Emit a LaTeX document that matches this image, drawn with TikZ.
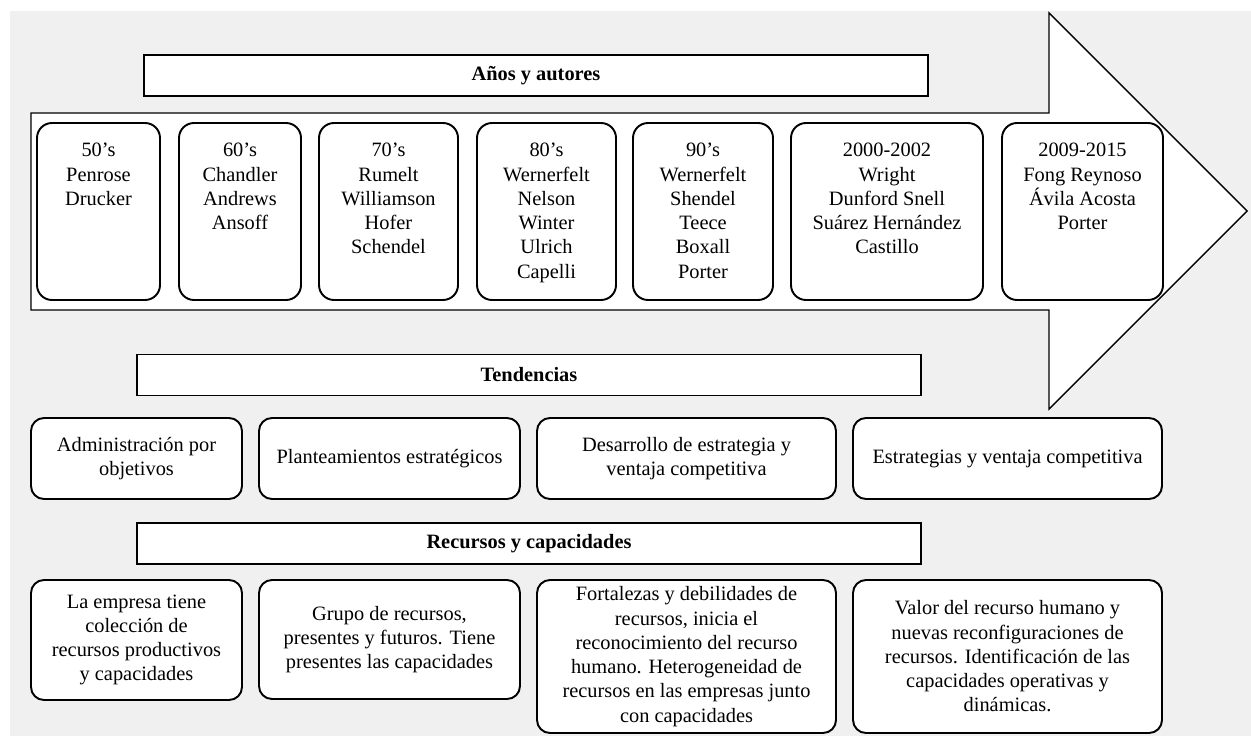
\documentclass[tikz,border=0pt]{standalone}
\usepackage{fontspec}
\setmainfont{Liberation Serif}
\usepackage{tikz}
\usetikzlibrary{positioning}
\definecolor{panel}{HTML}{F0F0F0}

\begin{document}
\begin{tikzpicture}[
  x=0.2mm, y=-0.2mm,
  node distance=3.4mm,
  txt/.style={font=\fontsize{11.6}{13.8}\selectfont, align=center},
  bar/.style={draw, line width=1pt, fill=white, minimum width=156.8mm, minimum height=8.2mm, inner sep=0pt, outer sep=0pt, font=\fontsize{11.6}{13.8}\selectfont\bfseries},
  era/.style={draw, line width=1.1pt, fill=white, rounded corners=3mm, minimum width=#1, minimum height=35.4mm, inner sep=0pt, outer sep=0pt},
  eratext/.style={txt, inner sep=0pt, anchor=north},
  card/.style={draw, line width=1.1pt, fill=white, rounded corners=2.6mm, txt, minimum width=#1, inner sep=1pt, outer sep=0pt}]
  \fill[panel] (10,11) rectangle (1251,736);
  \useasboundingbox (0,0) rectangle (1251,740);
  % big timeline arrow
  \draw[line width=0.8pt, fill=white] (31,113) -- (1049,113) -- (1049,13) -- (1247,211) -- (1049,409) -- (1049,310) -- (31,310) -- cycle;
  \node[bar] (anos) at (536,75.5) {Años y autores};
  % decades
  \node[era=24.6mm] (e50) at (98.5,211.5) {};
  \node[era=24.4mm, right=3.8mm of e50] (e60) {};
  \node[era=27.8mm, right=3.6mm of e60] (e70) {};
  \node[era=27.8mm, right=3.8mm of e70] (e80) {};
  \node[era=28mm, right=3.4mm of e80] (e90) {};
  \node[era=38.4mm, right=3.6mm of e90] (e00) {};
  \node[era=32.2mm, right=3.8mm of e00] (e09) {};
  \node[eratext, below=4mm of e50.north] (t50) {50’s\\Penrose\\Drucker};
  \node[eratext, below=4mm of e60.north] (t60) {60’s\\Chandler\\Andrews\\Ansoff};
  \node[eratext, below=4mm of e70.north] (t70) {70’s\\Rumelt\\Williamson\\Hofer\\Schendel};
  \node[eratext, below=4mm of e80.north] (t80) {80’s\\Wernerfelt\\Nelson\\Winter\\Ulrich\\Capelli};
  \node[eratext, below=4mm of e90.north] (t90) {90’s\\Wernerfelt\\Shendel\\Teece\\Boxall\\Porter};
  \node[eratext, below=4mm of e00.north] (t00) {2000-2002\\Wright\\Dunford Snell\\Suárez Hernández\\Castillo};
  \node[eratext, below=4mm of e09.north] (t09) {2009-2015\\Fong Reynoso\\Ávila Acosta\\Porter};
  % trends
  \node[bar] (tend) at (529,375) {Tendencias};
  \node[card=42.2mm, minimum height=16.2mm] (tr1) at (136.5,458.5) {Administración por\\objetivos};
  \node[card=52.2mm, minimum height=16.2mm, right=of tr1] (tr2) {Planteamientos estratégicos};
  \node[card=59.8mm, minimum height=16.2mm, right=of tr2] (tr3) {Desarrollo de estrategia y\\ventaja competitiva};
  \node[card=61.8mm, minimum height=16.2mm, right=of tr3] (tr4) {Estrategias y ventaja competitiva};
  % resources and capabilities
  \node[bar] (rec) at (529,543.5) {Recursos y capacidades};
  \node[card=42.2mm, minimum height=24mm, anchor=north west] (rc1) at (31,580) {La empresa tiene\\colección de\\recursos productivos\\y capacidades};
  \node[card=52.2mm, minimum height=23.8mm, right=of rc1.north east, anchor=north west] (rc2) {Grupo de recursos,\\presentes y futuros. Tiene\\presentes las capacidades};
  \node[card=59.8mm, minimum height=30.6mm, right=of rc2.north east, anchor=north west] (rc3) {Fortalezas y debilidades de\\recursos, inicia el\\reconocimiento del recurso\\humano. Heterogeneidad de\\recursos en las empresas junto\\con capacidades};
  \node[card=61.8mm, minimum height=30.6mm, right=of rc3.north east, anchor=north west] (rc4) {Valor del recurso humano y\\nuevas reconfiguraciones de\\recursos. Identificación de las\\capacidades operativas y\\dinámicas.};
\end{tikzpicture}
\end{document}
